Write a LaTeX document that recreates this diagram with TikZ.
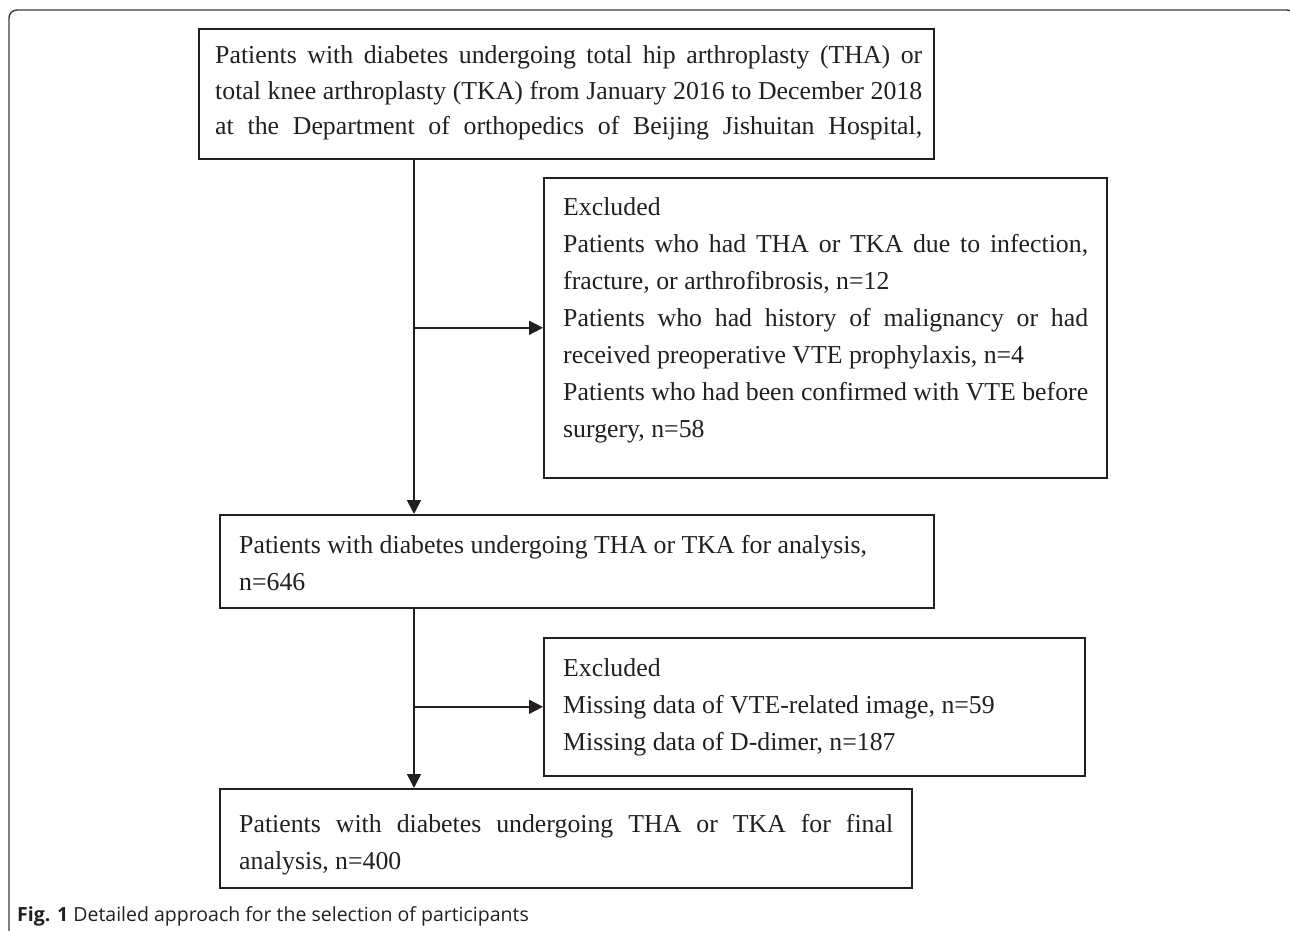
\documentclass[tikz,border=0pt]{standalone}
\usepackage{fontspec}
\setmainfont{Liberation Serif}
\newfontfamily\capfont{Open Sans}
\usetikzlibrary{arrows.meta}
\definecolor{ink}{HTML}{231F20}
\definecolor{frame}{HTML}{3A3A3A}
\newcommand{\jl}[1]{\makebox[\linewidth][s]{#1}}
\newcommand{\boxtext}[3][37]{\parbox[t]{#2}{\fontsize{25.8}{#1}\selectfont #3}}
\begin{document}
\begin{tikzpicture}[x=1pt,y=-1pt,
  box/.style={draw=ink,line width=1.6pt,rectangle,inner sep=0pt,anchor=north west},
  txt/.style={inner sep=0pt,anchor=base west,text=ink},
  arr/.style={draw=ink,line width=1.8pt,-{Triangle[length=14pt,width=14pt]}},
  ln/.style={draw=ink,line width=1.8pt}]
\useasboundingbox (0,0) rectangle (1290,931);
\begin{scope}
\clip (0,0) rectangle (1290,931);
\draw[frame,line width=1.4pt,rounded corners=8pt] (9,940) -- (9,10) -- (1295,10) -- (1295,940);
\end{scope}
% boxes
\node[box,minimum width=735pt,minimum height=130pt] (b1) at (198,28) {};
\node[box,minimum width=563pt,minimum height=300pt] (b2) at (543,177) {};
\node[box,minimum width=714pt,minimum height=93pt] (b3) at (219,514) {};
\node[box,minimum width=541pt,minimum height=138pt] (b4) at (543,637) {};
\node[box,minimum width=692pt,minimum height=99pt] (b5) at (219,788) {};
% texts
\node[txt] (t1) at (215,64) {\boxtext[35.5]{707pt}{%
\jl{Patients with diabetes undergoing total hip arthroplasty (THA) or}\\
\jl{total knee arthroplasty (TKA) from January 2016 to December 2018}\\
\jl{at the Department of orthopedics of Beijing Jishuitan Hospital,}}};
\node[txt] (t2) at (563,215) {\boxtext{525pt}{%
Excluded\\
\jl{Patients who had THA or TKA due to infection,}\\
fracture, or arthrofibrosis, n=12\\
\jl{Patients who had history of malignancy or had}\\
received preoperative VTE prophylaxis, n=4\\
Patients who had been confirmed with VTE before\\
surgery, n=58}};
\node[txt] (t3) at (239,553) {\boxtext{680pt}{%
Patients with diabetes undergoing THA or TKA for analysis,\\
n=646}};
\node[txt] (t4) at (563,676) {\boxtext{500pt}{%
Excluded\\
Missing data of VTE-related image, n=59\\
Missing data of D-dimer, n=187}};
\node[txt] (t5) at (239,832) {\boxtext{654pt}{%
\jl{Patients with diabetes undergoing THA or TKA for final}\\
analysis, n=400}};
% caption
\node[txt] (cap) at (17,921) {\fontsize{19.5}{24}\selectfont\capfont\textbf{Fig. 1} Detailed approach for the selection of participants};
% connectors
\coordinate (s) at (414,0);
\draw[arr] (b1.south -| s) -- (b3.north -| s);
\draw[arr] (b2.west -| s) -- (b2.west);
\draw[arr] (b3.south -| s) -- (b5.north -| s);
\draw[arr] (b4.west -| s) -- (b4.west);
\end{tikzpicture}
\end{document}
